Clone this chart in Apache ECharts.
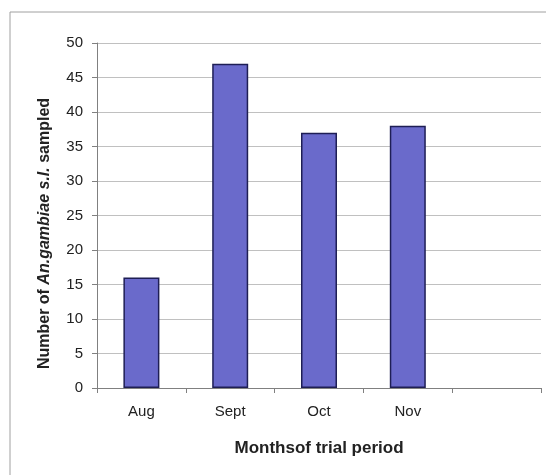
<!DOCTYPE html>
<html>
<head>
<meta charset="utf-8">
<script src="https://cdn.jsdelivr.net/npm/echarts@6/dist/echarts.min.js"></script>
<style>
  html, body { margin: 0; padding: 0; background: #fff; }
  #chart { width: 546px; height: 475px; }
</style>
</head>
<body>
<div id="chart"></div>
<script>
    // months (last slot is empty in the original)
    var months = ['Aug', 'Sept', 'Oct', 'Nov', ''];
    var sampled = [16, 47, 37, 38, null];

    var chart = echarts.init(document.getElementById('chart'));
    chart.setOption({
        animation: false,
        textStyle: {fontFamily: 'Liberation Sans, Arial, sans-serif'},
        grid: {left: 97, right: 5, top: 43, bottom: 87},
        // outer frame (left + top only)
        graphic: [
            {
                type: 'polyline',
                shape: {points: [[10, 475], [10, 12], [546, 12]]},
                style: {stroke: '#a0a0a0', lineWidth: 1, fill: null}
            }
        ],
        xAxis: {
            type: 'category',
            data: months,
            name: 'Monthsof trial period',
            nameLocation: 'middle',
            nameGap: 52,
            nameTextStyle: {fontSize: 17, fontWeight: 'bold', color: '#222'},
            axisLine: {lineStyle: {color: '#808080'}},
            axisTick: {show: true, length: 5, lineStyle: {color: '#808080'}},
            axisLabel: {fontSize: 15, color: '#222', margin: 16}
        },
        yAxis: {
            type: 'value',
            min: 0,
            max: 50,
            interval: 5,
            name: '{a|Number of }{b|An.gambiae s.l.}{a| sampled}',
            nameLocation: 'middle',
            nameGap: 44,
            nameTextStyle: {
                // right padding pushes the rotated title down a bit
                padding: [0, 36, 0, 0],
                rich: {
                    a: {fontSize: 16, fontWeight: 'bold', color: '#222'},
                    b: {fontSize: 16, fontWeight: 'bold', fontStyle: 'italic', color: '#222'}
                }
            },
            axisLine: {show: true, lineStyle: {color: '#808080'}},
            axisTick: {show: true, length: 5, lineStyle: {color: '#808080'}},
            axisLabel: {fontSize: 15, color: '#222', margin: 14},
            splitLine: {lineStyle: {color: '#c0c0c0'}}
        },
        series: [
            {
                type: 'bar',
                data: sampled,
                barWidth: 36,
                itemStyle: {color: '#6a6acb', borderColor: '#1e1e55', borderWidth: 1.5}
            }
        ]
    });
</script>
</body>
</html>
